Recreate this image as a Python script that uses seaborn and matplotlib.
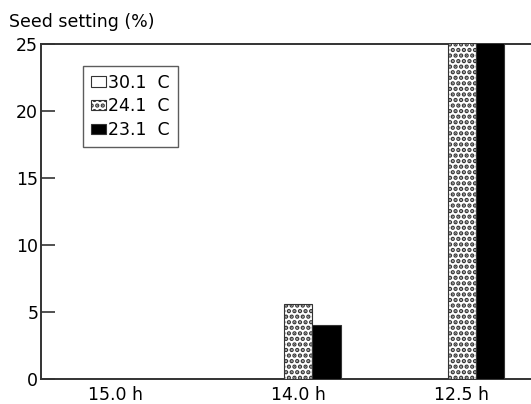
import matplotlib
matplotlib.use("Agg")
import matplotlib.pyplot as plt
import seaborn as sns
import pandas as pd

# Day length treatments and temperature series
daylengths = ["15.0 h", "14.0 h", "12.5 h"]
temperatures = ["30.1  C", "24.1  C", "23.1  C"]
seed_30_1 = [0.0, 0.0, 0.0]
seed_24_1 = [0.0, 5.6, 28.0]
seed_23_1 = [0.0, 4.0, 30.0]

# Horizontal placement of the day-length groups
group_pos = [0.0, 1.0, 1.9]

rows = []
for series, vals in zip(temperatures, [seed_30_1, seed_24_1, seed_23_1]):
    for pos, v in zip(group_pos, vals):
        rows.append({"pos": pos, "temp": series, "value": v})
df = pd.DataFrame(rows)

sns.set_theme(style="white")
plt.rcParams["font.family"] = ["DejaVu Sans"]
plt.rcParams["text.color"] = "black"
plt.rcParams["xtick.color"] = "black"
plt.rcParams["ytick.color"] = "black"
plt.rcParams["hatch.linewidth"] = 2.2
plt.rcParams["hatch.color"] = "black"

FS = 12.5

fig = plt.figure(figsize=(5.31, 4.04), dpi=100)
ax = fig.add_axes([41 / 531, 1 - 379 / 404, 1 - 41 / 531, (379 - 44) / 404])

sns.barplot(data=df, x="pos", y="value", hue="temp", hue_order=temperatures,
            native_scale=True, width=0.52, palette=["white", "white", "black"],
            edgecolor="#333333", linewidth=0.8, ax=ax, errorbar=None,
            saturation=1)

hatches = {"24.1  C": "..."}
for container, name in zip(ax.containers, temperatures):
    for patch in container:
        patch.set_zorder(3)
        if name in hatches:
            patch.set_hatch(hatches[name])

ax.set_ylim(0, 25)
ax.set_xlim(-0.412, 2.28)
ax.set_yticks([0, 5, 10, 15, 20, 25])
ax.set_xticks(group_pos)
ax.set_xticklabels(daylengths)
ax.set_xlabel("")
ax.set_ylabel("")
ax.tick_params(axis="y", direction="in", length=10, width=1.2, color="#333333",
               labelcolor="black", labelsize=FS, pad=2, left=True)
ax.tick_params(axis="x", length=0, labelsize=FS, labelcolor="black", pad=5)

for side in ["left", "top", "bottom"]:
    ax.spines[side].set_visible(True)
    ax.spines[side].set_color("#333333")
    ax.spines[side].set_linewidth(1.4)
ax.spines["right"].set_visible(False)

fig.text(9 / 531, 1 - 27 / 404, "Seed setting (%)", fontsize=FS,
         color="black", va="baseline", ha="left")

leg = ax.legend(loc="upper left", bbox_to_anchor=((83 - 41) / 490, 1 - (66 - 44) / 335),
                frameon=True, fontsize=FS, handlelength=0.85, handleheight=0.55,
                handletextpad=0.15, borderpad=0.45, labelspacing=0.32,
                fancybox=False, borderaxespad=0)
leg.get_frame().set_edgecolor("#333333")
leg.get_frame().set_linewidth(1.0)
for txt in leg.get_texts():
    txt.set_color("black")
for h, name in zip(leg.legend_handles, temperatures):
    h.set_edgecolor("#333333")
    if name in hatches:
        h.set_hatch(hatches[name])

fig.savefig("out.png", dpi=100)
